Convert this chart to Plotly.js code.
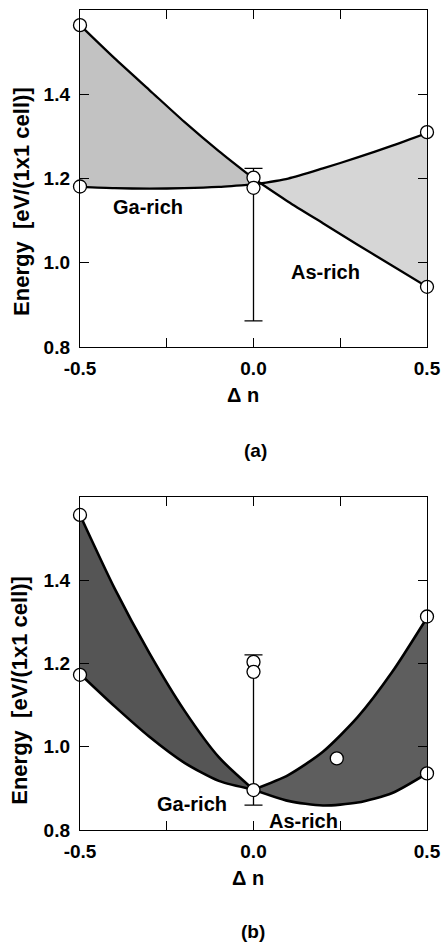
<!DOCTYPE html>
<html>
<head>
<meta charset="utf-8">
<script src="https://cdn.plot.ly/plotly-3.0.1.min.js"></script>
<style>html,body{margin:0;padding:0;background:#fff;}#chart{width:445px;height:942px;}</style>
</head>
<body>
<div id="chart"></div>
<script>
// ---- data ----
const dn = [-0.5, -0.4, -0.3, -0.2, -0.1, 0.0, 0.1, 0.2, 0.3, 0.4, 0.5];
// panel (a)
const aUpper = [1.564, 1.485, 1.410, 1.335, 1.265, 1.200, 1.145, 1.094, 1.043, 0.993, 0.943];
const aLower = [1.180, 1.177, 1.176, 1.177, 1.180, 1.186, 1.200, 1.224, 1.250, 1.278, 1.308];
const aCircX = [-0.5, -0.5, 0.0, 0.0, 0.5, 0.5];
const aCircY = [1.564, 1.181, 1.202, 1.178, 1.310, 0.943];
const aErrX = [0.0];
const aErrLow = [0.862];
const aErrHigh = [1.224];
// panel (b)
const bUpper = [1.557, 1.380, 1.225, 1.088, 0.975, 0.897, 0.932, 0.988, 1.071, 1.180, 1.310];
const bLower = [1.175, 1.097, 1.024, 0.962, 0.918, 0.897, 0.870, 0.859, 0.866, 0.889, 0.936];
const bCircX = [-0.5, -0.5, 0.0, 0.0, 0.0, 0.5, 0.5, 0.24];
const bCircY = [1.557, 1.173, 0.896, 1.204, 1.180, 1.313, 0.936, 0.972];
const bErrX = [0.0];
const bErrLow = [0.860];
const bErrHigh = [1.221];
// labels
const xTickVals = [-0.5, -0.25, 0.0, 0.25, 0.5];
const xTickText = ['-0.5', '', '0.0', '', '0.5'];
const yTickVals = [0.8, 1.0, 1.2, 1.4];
const yTickText = ['0.8', '1.0', '1.2', '1.4'];
const yTitle = 'Energy  [eV/(1x1 cell)]';
const xTitle = 'Δ n';

// ---- build ----
const FONT = 'Liberation Sans, Arial, Helvetica, sans-serif';
const traces = [];
const mid = dn.indexOf(0.0);
function addPanel(upper, lower, cx, cy, ex, elo, ehi, xa, ya, fillL, fillR, lw) {
  const L = dn.slice(0, mid + 1), R = dn.slice(mid);
  const halves = [[L, lower.slice(0, mid + 1), upper.slice(0, mid + 1), fillL],
                  [R, lower.slice(mid), upper.slice(mid), fillR]];
  halves.forEach(h => {
    traces.push({x: h[0], y: h[1], xaxis: xa, yaxis: ya, mode: 'lines', type: 'scatter',
      line: {color: 'black', width: lw, shape: 'spline', smoothing: 0.7}, hoverinfo: 'skip', showlegend: false});
    traces.push({x: h[0], y: h[2], xaxis: xa, yaxis: ya, mode: 'lines', type: 'scatter', fill: 'tonexty',
      fillcolor: h[3], line: {color: 'black', width: lw, shape: 'spline', smoothing: 0.7}, hoverinfo: 'skip', showlegend: false});
  });
  traces.push({x: ex, y: elo, xaxis: xa, yaxis: ya, mode: 'markers', type: 'scatter',
    marker: {size: 1, color: 'rgba(0,0,0,0)'},
    error_y: {type: 'data', symmetric: false, array: ehi.map((v, i) => v - elo[i]), arrayminus: elo.map(() => 0),
      color: 'black', thickness: 1.3, width: 9},
    hoverinfo: 'skip', showlegend: false});
  traces.push({x: cx, y: cy, xaxis: xa, yaxis: ya, mode: 'markers', type: 'scatter', cliponaxis: false,
    marker: {symbol: 'circle', size: 13, color: 'white', line: {color: 'black', width: 1.3}},
    hoverinfo: 'skip', showlegend: false});
}
addPanel(aUpper, aLower, aCircX, aCircY, aErrX, aErrLow, aErrHigh, 'x', 'y', '#c2c2c2', '#d6d6d6', 2.3);
addPanel(bUpper, bLower, bCircX, bCircY, bErrX, bErrLow, bErrHigh, 'x2', 'y2', '#555555', '#5e5e5e', 2.6);

function xax(anchor) {
  return {anchor: anchor, domain: [0, 1], range: [-0.5, 0.5], tickvals: xTickVals, ticktext: xTickText,
    ticks: 'inside', ticklen: 9, tickwidth: 1.2, tickcolor: 'black', showline: true, linecolor: 'black',
    linewidth: 1.2, mirror: 'allticks', showgrid: false, zeroline: false, ticklabelstandoff: 4,
    tickfont: {family: FONT, size: 19, color: 'black', weight: 'bold'}};
}
function yax(anchor, dom) {
  return {anchor: anchor, domain: dom, range: [0.8, 1.6], tickvals: yTickVals, ticktext: yTickText,
    ticks: 'inside', ticklen: 9, tickwidth: 1.2, tickcolor: 'black', showline: true, linecolor: 'black',
    linewidth: 1.2, mirror: 'allticks', showgrid: false, zeroline: false, ticklabelstandoff: 5,
    tickfont: {family: FONT, size: 19, color: 'black', weight: 'bold'}};
}
const tf = (s) => ({family: FONT, size: s, color: 'black', weight: 'bold'});
const C = {xanchor: 'center', yanchor: 'middle', showarrow: false};
const annotations = [
  Object.assign({text: 'Ga-rich', x: -0.305, y: 1.133, xref: 'x', yref: 'y', font: tf(20)}, C),
  Object.assign({text: 'As-rich', x: 0.207, y: 0.978, xref: 'x', yref: 'y', font: tf(20)}, C),
  Object.assign({text: 'Ga-rich', x: -0.178, y: 0.8625, xref: 'x2', yref: 'y2', font: tf(20)}, C),
  Object.assign({text: 'As-rich', x: 0.143, y: 0.822, xref: 'x2', yref: 'y2', font: tf(20)}, C),
  Object.assign({text: yTitle, x: -0.167, y: 0.766, xref: 'paper', yref: 'paper', textangle: -90, font: tf(22)}, C),
  Object.assign({text: yTitle, x: -0.173, y: 0.171, xref: 'paper', yref: 'paper', textangle: -90, font: tf(22)}, C),
  Object.assign({text: xTitle, x: 0.470, y: 0.5305, xref: 'paper', yref: 'paper', font: tf(20)}, C),
  Object.assign({text: xTitle, x: 0.484, y: -0.0585, xref: 'paper', yref: 'paper', font: tf(20)}, C),
  Object.assign({text: '(a)', x: 0.507, y: 0.463, xref: 'paper', yref: 'paper', font: tf(19)}, C),
  Object.assign({text: '(b)', x: 0.499, y: -0.124, xref: 'paper', yref: 'paper', font: tf(19)}, C)
];
const layout = {
  width: 445, height: 942,
  margin: {l: 80, r: 18, t: 10, b: 112},
  paper_bgcolor: 'white', plot_bgcolor: 'white',
  xaxis: xax('y'), yaxis: yax('x', [0.589, 1]),
  xaxis2: xax('y2'), yaxis2: yax('x2', [0, 0.406]),
  annotations: annotations, showlegend: false
};
Plotly.newPlot('chart', traces, layout, {displayModeBar: false, staticPlot: true});
</script>
</body>
</html>
